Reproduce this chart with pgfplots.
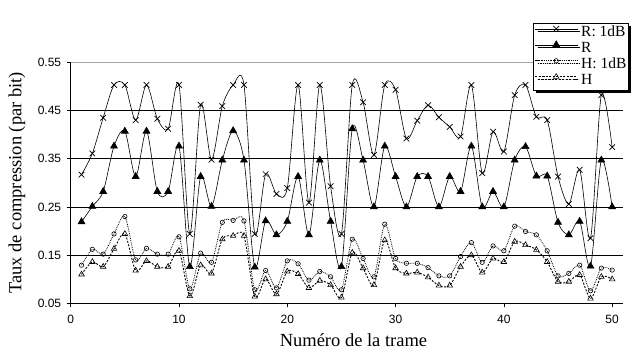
\documentclass[border=0pt]{standalone}
\usepackage{pgfplots}
\pgfplotsset{compat=1.18}
\usepackage{fontspec}
\setmainfont{Liberation Serif}
\newfontfamily\arialfont{Liberation Sans}
\usetikzlibrary{shadows}

\begin{document}
\begin{tikzpicture}
\useasboundingbox (-70.7pt,-45.7pt) rectangle (570.3pt,303.3pt);
\begin{axis}[
  scale only axis,
  width=552.3pt, height=241pt,
  xmin=0, xmax=51, ymin=0.05, ymax=0.55,
  xtick={0,10,20,30,40,50},
  ytick={0.05,0.15,0.25,0.35,0.45,0.55},
  axis x line=bottom, axis y line=left,
  axis line style={-, black, line width=0.6pt},
  tick align=outside, major tick length=4pt,
  tick style={black, line width=0.6pt},
  ymajorgrids, major grid style={black, line width=0.6pt},
  /pgf/number format/assume math mode=true,
  tick label style={font=\arialfont\fontsize{12}{12}\selectfont},
  xticklabel style={yshift=-4pt},
  yticklabel style={xshift=-2pt, /pgf/number format/.cd, fixed, fixed zerofill, precision=2},
  every axis y label/.style={at={(axis description cs:-0.0972,0.5)}, rotate=90, anchor=center},
  every axis x label/.style={at={(axis description cs:0.512,-0.151)}, anchor=center},
  xlabel={Numéro de la trame},
  ylabel={Taux de compression (par bit)},
  label style={font=\fontsize{18.5}{18.5}\selectfont},
  legend style={at={(axis description cs:0.837,1.163)}, anchor=north west,
    draw=black, line width=0.6pt, fill=white,
    drop shadow={shadow xshift=2.5pt, shadow yshift=-2.5pt, fill=black, opacity=1},
    font=\fontsize{15.5}{15.5}\selectfont,
    inner sep=1.5pt, row sep=0pt,
    nodes={inner sep=0.5pt, text height=11.5pt, text depth=3.5pt},
    /tikz/every odd column/.append style={column sep=3pt}},
  legend cell align=left,
  legend image code/.code={\draw[mark repeat=2,mark phase=2,#1] plot coordinates {(0pt,4pt) (21pt,4pt) (42pt,4pt)};},
]
\draw[gray!70, line width=0.6pt] (rel axis cs:0,1) -- (rel axis cs:1,1) -- (rel axis cs:1,0);

\addplot[black, line width=0.6pt, smooth, mark=x, mark size=4pt, mark options={solid, line width=0.7pt}] coordinates {
(1,0.317) (2,0.361) (3,0.435) (4,0.503) (5,0.503) (6,0.430) (7,0.503) (8,0.433) (9,0.412) (10,0.503)
(11,0.194) (12,0.462) (13,0.348) (14,0.459) (15,0.503) (16,0.503) (17,0.194) (18,0.318) (19,0.277) (20,0.289)
(21,0.503) (22,0.259) (23,0.503) (24,0.293) (25,0.194) (26,0.503) (27,0.467) (28,0.358) (29,0.503) (30,0.493)
(31,0.392) (32,0.429) (33,0.461) (34,0.436) (35,0.416) (36,0.396) (37,0.503) (38,0.320) (39,0.406) (40,0.365)
(41,0.482) (42,0.503) (43,0.437) (44,0.430) (45,0.313) (46,0.256) (47,0.327) (48,0.185) (49,0.482) (50,0.374)
};
\addlegendentry{R: 1dB}

\addplot[black, line width=0.6pt, smooth, mark=triangle*, mark size=4pt, mark options={solid}] coordinates {
(1,0.219) (2,0.251) (3,0.282) (4,0.376) (5,0.407) (6,0.313) (7,0.407) (8,0.282) (9,0.282) (10,0.376)
(11,0.126) (12,0.313) (13,0.251) (14,0.347) (15,0.408) (16,0.347) (17,0.125) (18,0.221) (19,0.192) (20,0.220)
(21,0.313) (22,0.192) (23,0.347) (24,0.220) (25,0.126) (26,0.412) (27,0.347) (28,0.250) (29,0.376) (30,0.313)
(31,0.250) (32,0.313) (33,0.313) (34,0.250) (35,0.313) (36,0.282) (37,0.376) (38,0.250) (39,0.282) (40,0.250)
(41,0.347) (42,0.375) (43,0.314) (44,0.314) (45,0.218) (46,0.192) (47,0.220) (48,0.127) (49,0.347) (50,0.250)
};
\addlegendentry{R}

\addplot[black, line width=0.8pt, smooth, densely dotted, mark=o, mark size=2.2pt, mark options={solid, line width=0.6pt}] coordinates {
(1,0.129) (2,0.162) (3,0.152) (4,0.194) (5,0.230) (6,0.140) (7,0.164) (8,0.152) (9,0.152) (10,0.188)
(11,0.080) (12,0.154) (13,0.135) (14,0.218) (15,0.222) (16,0.221) (17,0.078) (18,0.118) (19,0.082) (20,0.138)
(21,0.132) (22,0.098) (23,0.116) (24,0.105) (25,0.078) (26,0.183) (27,0.143) (28,0.105) (29,0.214) (30,0.143)
(31,0.133) (32,0.133) (33,0.124) (34,0.107) (35,0.107) (36,0.147) (37,0.176) (38,0.135) (39,0.169) (40,0.159)
(41,0.210) (42,0.199) (43,0.192) (44,0.159) (45,0.107) (46,0.112) (47,0.129) (48,0.076) (49,0.123) (50,0.119)
};
\addlegendentry{H: 1dB}

\addplot[black, line width=0.9pt, smooth, dash pattern=on 2pt off 1.5pt, mark=triangle, mark size=3.2pt, mark options={solid, line width=0.6pt}] coordinates {
(1,0.110) (2,0.136) (3,0.126) (4,0.163) (5,0.194) (6,0.118) (7,0.138) (8,0.126) (9,0.126) (10,0.159)
(11,0.065) (12,0.129) (13,0.112) (14,0.183) (15,0.190) (16,0.190) (17,0.064) (18,0.100) (19,0.069) (20,0.116)
(21,0.111) (22,0.082) (23,0.097) (24,0.088) (25,0.062) (26,0.155) (27,0.123) (28,0.088) (29,0.181) (30,0.123)
(31,0.112) (32,0.114) (33,0.104) (34,0.087) (35,0.087) (36,0.126) (37,0.150) (38,0.114) (39,0.143) (40,0.136)
(41,0.178) (42,0.171) (43,0.161) (44,0.136) (45,0.095) (46,0.095) (47,0.109) (48,0.060) (49,0.105) (50,0.100)
};
\addlegendentry{H}
\end{axis}
\end{tikzpicture}
\end{document}
